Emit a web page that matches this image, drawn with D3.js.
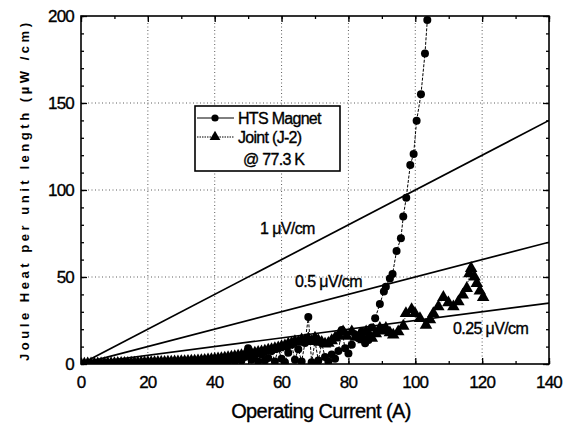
<!DOCTYPE html>
<html>
<head>
<meta charset="utf-8">
<script src="https://cdn.jsdelivr.net/npm/d3@7"></script>
<style>
  html, body { margin: 0; padding: 0; background: #fff; }
  svg text { font-family: "Liberation Sans", Arial, sans-serif; fill: #000; stroke: #000; stroke-width: 0.35px; }
</style>
</head>
<body>
<svg id="chart" width="574" height="428"></svg>
<script>
// HTS magnet: Joule heat per unit length vs operating current
const magnetCurrent = [
  0,1,2,3,4,5,6,7,8,9,10,11,12,13,14,15,16,17,18,19,20,21,22,23,24,25,26,27,28,29,
  30,31,32,33,34,35,36,37,38,39,40,41,42,43,44,45,46,47,48,49,50,51,52,53,54,55,56,57,58,59,
  60,61,62,63,64,65,66,67,68,69,70,71,72,73,74,75,76,77,78,79,80,81,82,83,84,85,86,87,88,
  89.4,90.6,91.2,92.4,93.2,94.4,95.7,96.4,97.3,98.5,99.5,100.4,101.7,102.9,103.6
];
const magnetHeat = [
  0,0,0.05,0.05,0.1,0.1,0.1,0.15,0.15,0.2,0.2,0.2,0.25,0.25,0.3,0.3,0.3,0.35,0.4,0.4,
  0.45,0.5,0.5,0.55,0.6,0.6,0.65,0.7,0.75,0.8,0.85,0.9,0.9,1.0,1.0,1.1,1.2,1.3,1.4,1.5,
  1.6,1.8,1.4,2.2,1.8,2.6,1.5,3.0,2.0,4.0,9.0,2.5,5.0,1.5,5.5,2.0,3.5,7.5,1.5,9.0,
  3.0,1.0,6.5,11.0,2.5,8.5,1.5,12.0,27.0,1.0,13.0,2.0,12.0,4.0,1.5,5.5,3.0,7.5,19.5,9.0,
  6.0,11.0,17.0,14.8,18.5,11.9,13.8,21.0,26.3,
  34.5,41.6,44.4,49.2,51.7,65.0,72.2,84.7,95.6,114.4,120.7,139.8,155.0,178.5,197.7
];

// Joint (J-2)
const jointCurrent = [
  0,1,2,3,4,5,6,7,8,9,10,11,12,13,14,15,16,17,18,19,20,21,22,23,24,25,26,27,28,29,
  30,31,32,33,34,35,36,37,38,39,40,41,42,43,44,45,46,47,48,49,50,51,52,53,54,55,56,57,58,59,
  60,61,62,63,64,65,66,67,68,69,70,71,72,73,74,75,76,77,78.4,79.5,81,82.2,83.5,84.5,85.3,86.2,87,88.2,
  89.4,90.3,91.2,92.4,93.4,94.9,96.4,97.2,98.9,99.9,101.4,103.2,104.4,105.4,106.9,108.4,109.9,
  111.4,112.9,114.2,115.4,116.2,116.7,117.7,118.4,119.3,120.3
];
const jointHeat = [
  0,0.05,0.1,0.1,0.15,0.2,0.2,0.25,0.3,0.3,0.35,0.4,0.45,0.5,0.5,0.55,0.6,0.65,0.7,0.75,
  0.8,0.85,0.9,0.95,1.0,1.05,1.1,1.2,1.25,1.3,1.4,1.5,1.6,1.7,1.8,1.9,2.0,2.2,2.4,2.6,
  2.8,3.0,3.2,3.5,3.7,4.0,4.3,4.6,4.9,5.2,5.6,6.0,6.3,6.7,7.1,7.5,8.0,8.4,8.9,9.4,
  10.0,10.5,11.5,12.0,13.0,12.5,14.0,13.5,14.5,13.0,15.0,13.5,12.5,11.5,12.0,13.5,15.0,16.5,
  18.6,16.0,18.6,15.5,16.7,14.0,18.6,16.5,14.8,17.5,
  20.5,19.0,20.5,18.0,16.7,18.6,21.8,29.1,31.4,29.1,26.2,22.4,25.5,29.1,32.9,38.3,35.2,
  32.9,35.8,39.7,43.5,52.0,55.0,50.0,46.4,42.0,38.3
];

// Reference electric-field criteria (µV/cm): heat = E * I
const fieldLevels = [1, 0.5, 0.25];
const fieldLabels = ["1 \u03bcV/cm", "0.5 \u03bcV/cm", "0.25 \u03bcV/cm"];
const fieldLabelAt = [[260, 234], [295, 287], [453, 334]];

const xTicks = [0, 20, 40, 60, 80, 100, 120, 140];
const yTicks = [0, 50, 100, 150, 200];
const legendLabels = ["HTS Magnet", "Joint (J-2)", "@ 77.3 K"];

const svg = d3.select("#chart");
const L = 81, R = 549, T = 16, B = 364;
const x = d3.scaleLinear().domain([0, 140]).range([L, R]);
const y = d3.scaleLinear().domain([0, 200]).range([B, T]);

svg.append("defs").append("clipPath").attr("id", "plot")
  .append("rect").attr("x", L).attr("y", T).attr("width", R - L).attr("height", B - T);

// dotted grid at major ticks
const grid = svg.append("g").attr("stroke", "#333").attr("stroke-width", 0.8)
  .attr("stroke-dasharray", "1,2.5");
xTicks.slice(1, -1).forEach(v => grid.append("line")
  .attr("x1", x(v)).attr("x2", x(v)).attr("y1", T).attr("y2", B));
yTicks.slice(1, -1).forEach(v => grid.append("line")
  .attr("x1", L).attr("x2", R).attr("y1", y(v)).attr("y2", y(v)));

// axes with inward ticks on all four sides
const minorX = d3.range(0, 141, 10), minorY = d3.range(0, 201, 10);
function axisSet(axisFn, scale, major, minor, tr) {
  const gMin = svg.append("g").attr("transform", tr)
    .call(axisFn(scale).tickValues(minor).tickSize(-3).tickFormat(""));
  const gMaj = svg.append("g").attr("transform", tr)
    .call(axisFn(scale).tickValues(major).tickSize(-6).tickFormat(""));
  [gMin, gMaj].forEach(g => {
    g.select(".domain").remove();
    g.selectAll(".tick line").attr("stroke", "#000").attr("stroke-width", 1.3);
  });
}
axisSet(d3.axisBottom, x, xTicks, minorX, `translate(0,${B})`);
axisSet(d3.axisTop, x, xTicks, minorX, `translate(0,${T})`);
axisSet(d3.axisLeft, y, yTicks, minorY, `translate(${L},0)`);
axisSet(d3.axisRight, y, yTicks, minorY, `translate(${R},0)`);

// tick labels
svg.append("g").selectAll("text").data(xTicks).join("text")
  .attr("x", d => x(d)).attr("y", B + 24).attr("text-anchor", "middle")
  .attr("font-size", 17).attr("letter-spacing", -0.8).text(d => d);
svg.append("g").selectAll("text").data(yTicks).join("text")
  .attr("x", L - 7).attr("y", d => y(d) + 6).attr("text-anchor", "end")
  .attr("font-size", 17).attr("letter-spacing", -0.8).text(d => d);

// axis titles
svg.append("text").attr("x", 321).attr("y", 418).attr("text-anchor", "middle")
  .attr("font-size", 20).attr("letter-spacing", -0.6).text("Operating Current (A)");
svg.append("text").attr("transform", "translate(29,192) rotate(-90)")
  .attr("text-anchor", "middle").attr("font-size", 13).attr("font-weight", "bold")
  .style("stroke-width", "0px")
  .attr("textLength", 338).attr("lengthAdjust", "spacing")
  .text("Joule Heat per unit length (\u00b5W /cm)");

const plot = svg.append("g").attr("clip-path", "url(#plot)");

// field-criterion lines
const lineGen = d3.line().x(d => x(d[0])).y(d => y(d[1]));
fieldLevels.forEach(E => {
  plot.append("path").datum([[0, 0], [140, 140 * E]]).attr("d", lineGen)
    .attr("fill", "none").attr("stroke", "#000").attr("stroke-width", 1.7);
});
fieldLabels.forEach((t, i) => svg.append("text")
  .attr("x", fieldLabelAt[i][0]).attr("y", fieldLabelAt[i][1])
  .attr("font-size", 16).attr("letter-spacing", -0.6).text(t));

// data series
const magnet = magnetCurrent.map((c, i) => [c, magnetHeat[i]]);
const joint = jointCurrent.map((c, i) => [c, jointHeat[i]]);
plot.append("path").datum(magnet).attr("d", lineGen).attr("fill", "none")
  .attr("stroke", "#000").attr("stroke-width", 1).attr("stroke-dasharray", "3,1.5");
plot.append("path").datum(joint).attr("d", lineGen).attr("fill", "none")
  .attr("stroke", "#000").attr("stroke-width", 1).attr("stroke-dasharray", "1,1.5");

const tri = d3.symbol().type(d3.symbolTriangle).size(68);
plot.append("g").selectAll("path").data(joint).join("path")
  .attr("d", tri).attr("transform", d => `translate(${x(d[0])},${y(d[1])})`)
  .attr("fill", "#000");
plot.append("g").selectAll("circle").data(magnet).join("circle")
  .attr("cx", d => x(d[0])).attr("cy", d => y(d[1])).attr("r", 4).attr("fill", "#000");

// frame
svg.append("rect").attr("x", L).attr("y", T).attr("width", R - L).attr("height", B - T)
  .attr("fill", "none").attr("stroke", "#000").attr("stroke-width", 1.6);

// legend
const lg = svg.append("g");
lg.append("rect").attr("x", 195).attr("y", 106).attr("width", 145).attr("height", 65)
  .attr("fill", "#fff").attr("stroke", "#000").attr("stroke-width", 1.6);
const rows = [118, 137, 159];
lg.append("line").attr("x1", 197).attr("x2", 234).attr("y1", rows[0]).attr("y2", rows[0])
  .attr("stroke", "#000").attr("stroke-width", 1);
lg.append("circle").attr("cx", 215).attr("cy", rows[0]).attr("r", 3.6).attr("fill", "#000");
lg.append("line").attr("x1", 197).attr("x2", 234).attr("y1", rows[1]).attr("y2", rows[1])
  .attr("stroke", "#000").attr("stroke-width", 1).attr("stroke-dasharray", "1.5,1");
lg.append("path").attr("d", d3.symbol().type(d3.symbolTriangle).size(50))
  .attr("transform", `translate(215,${rows[1]})`).attr("fill", "#000");
lg.selectAll("text.lab").data(legendLabels).join("text").attr("class", "lab")
  .attr("x", (d, i) => i < 2 ? 238 : 243).attr("y", (d, i) => rows[i] + 6)
  .attr("font-size", 16).attr("letter-spacing", -0.7).text(d => d);
</script>
</body>
</html>
